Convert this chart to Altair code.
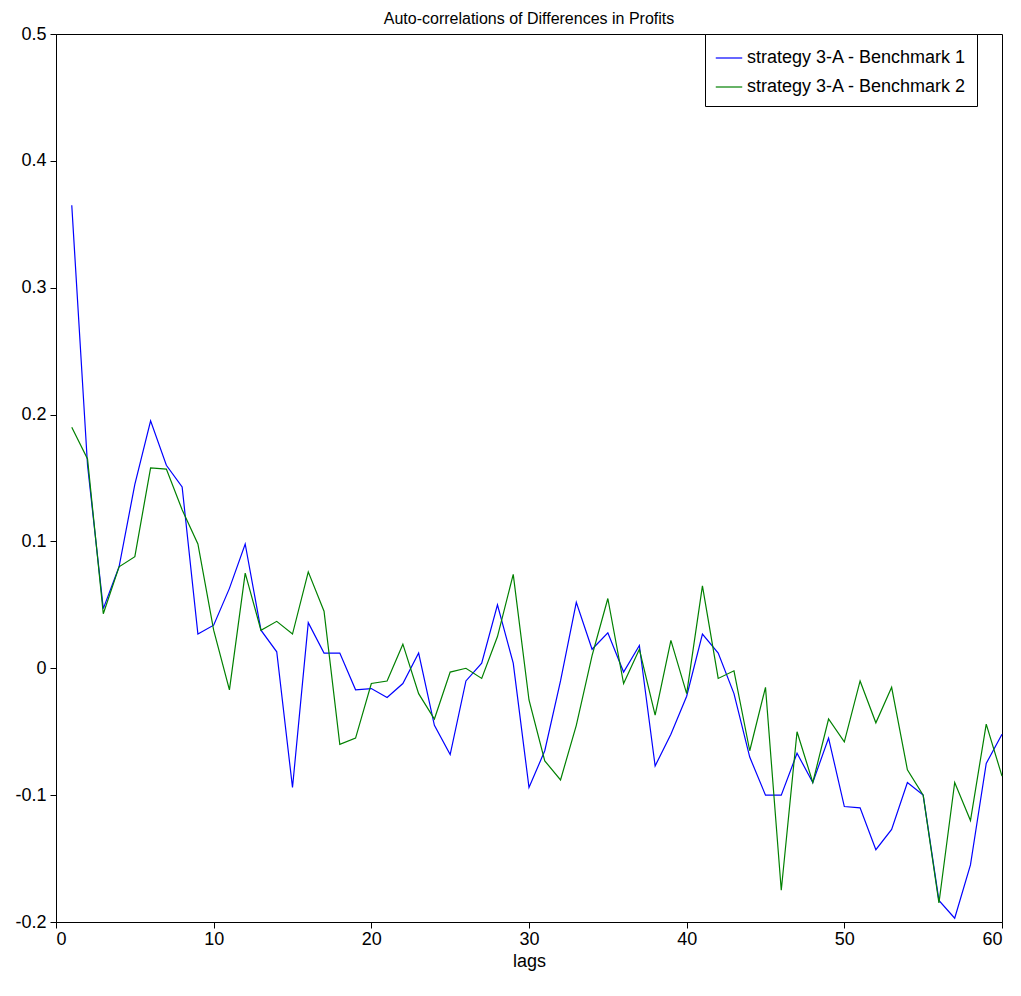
import pandas as pd
import altair as alt

lags = list(range(1, 61))
bench1 = [0.365, 0.16, 0.047, 0.08, 0.145, 0.195, 0.16, 0.143, 0.027, 0.034,
          0.063, 0.098, 0.03, 0.013, -0.094, 0.036, 0.012, 0.012, -0.017, -0.016,
          -0.023, -0.012, 0.012, -0.045, -0.068, -0.01, 0.004, 0.05, 0.004, -0.094,
          -0.065, -0.01, 0.052, 0.015, 0.028, -0.003, 0.018, -0.077, -0.052, -0.022,
          0.027, 0.012, -0.02, -0.07, -0.1, -0.1, -0.067, -0.09, -0.055, -0.109,
          -0.11, -0.143, -0.127, -0.09, -0.1, -0.183, -0.197, -0.155, -0.075, -0.052]
bench2 = [0.19, 0.165, 0.043, 0.08, 0.088, 0.158, 0.157, 0.125, 0.098, 0.03,
          -0.017, 0.075, 0.03, 0.037, 0.027, 0.076, 0.045, -0.06, -0.055, -0.012,
          -0.01, 0.019, -0.02, -0.04, -0.003, 0.0, -0.008, 0.025, 0.074, -0.025,
          -0.073, -0.088, -0.045, 0.01, 0.055, -0.012, 0.015, -0.037, 0.022, -0.02,
          0.065, -0.008, -0.002, -0.065, -0.015, -0.175, -0.05, -0.09, -0.04, -0.058,
          -0.01, -0.043, -0.015, -0.08, -0.1, -0.185, -0.09, -0.12, -0.044, -0.085]
names = ["strategy 3-A - Benchmark 1", "strategy 3-A - Benchmark 2"]

df = pd.concat([
    pd.DataFrame({"lag": lags, "value": bench1, "series": names[0]}),
    pd.DataFrame({"lag": lags, "value": bench2, "series": names[1]}),
])

font = "Liberation Sans"

chart = (
    alt.Chart(df)
    .mark_line(strokeWidth=1.2)
    .encode(
        x=alt.X("lag:Q", title="lags",
                scale=alt.Scale(domain=[0, 60], nice=False),
                axis=alt.Axis(values=list(range(0, 61, 10)), grid=False,
                              tickSize=6, tickColor="black", domainColor="black",
                              labelFontSize=18, titleFontSize=18,
                              labelColor="black", titleColor="black",
                              titleFontWeight="normal", labelPadding=2,
                              titlePadding=4, labelFont=font, titleFont=font)),
        y=alt.Y("value:Q", title=None,
                scale=alt.Scale(domain=[-0.2, 0.5], nice=False),
                axis=alt.Axis(values=[-0.2, -0.1, 0, 0.1, 0.2, 0.3, 0.4, 0.5],
                              labelExpr="replace(format(datum.value, '~g'), '\u2212', '-')",
                              grid=False, tickSize=6,
                              tickColor="black", domainColor="black",
                              labelFontSize=18, labelColor="black",
                              labelPadding=4, labelFont=font)),
        color=alt.Color("series:N",
                        scale=alt.Scale(domain=names, range=["#0000ff", "#008000"]),
                        legend=alt.Legend(title=None, orient="none",
                                          legendX=649, legendY=0,
                                          symbolType="stroke", symbolSize=700,
                                          symbolStrokeWidth=1.2,
                                          labelFontSize=18, labelFont=font,
                                          labelColor="black", labelLimit=400,
                                          strokeColor="black", fillColor="white",
                                          padding=10, rowPadding=6)),
    )
    .properties(
        width=946, height=888,
        title=alt.TitleParams("Auto-correlations of Differences in Profits",
                              fontSize=16, font=font, fontWeight="normal",
                              color="black", offset=-2),
        autosize=alt.AutoSizeParams(type="none"),
        padding={"left": 48, "top": 26, "right": 11, "bottom": 66},
    )
    .configure_view(stroke="black", strokeWidth=1)
)

chart.save("out.html", embed_options={"renderer": "svg", "actions": False})
